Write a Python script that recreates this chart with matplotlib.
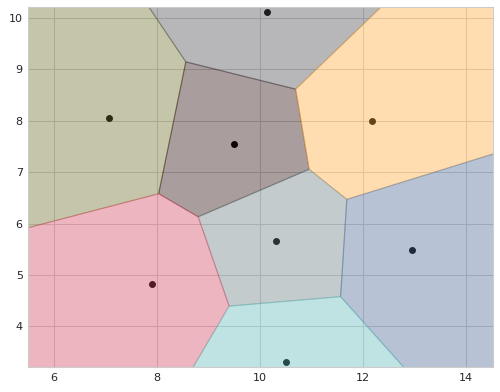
import matplotlib
matplotlib.use('Agg')
import matplotlib.pyplot as plt
import seaborn as sns
import numpy as np

# seed points
seed_x = [7.07, 9.50, 10.14, 12.18, 10.31, 12.96, 7.91, 10.51]
seed_y = [8.05, 7.55, 10.12, 8.00, 5.66, 5.49, 4.83, 3.30]
cell_colors = ['#6e702a', '#2a0c0c', '#4b4b52', '#ffac3e',
               '#697f82', '#4b6b98', '#d44861', '#61bbbb']

x_ticks = [6, 8, 10, 12, 14]
y_ticks = [4, 5, 6, 7, 8, 9, 10]


def clip_halfplane(poly, n, d):
    # keep the part of poly where p . n <= d
    out = []
    m = len(poly)
    for k in range(m):
        p, q = poly[k], poly[(k + 1) % m]
        fp, fq = p @ n - d, q @ n - d
        if fp <= 0:
            out.append(p)
        if fp * fq < 0:
            t = fp / (fp - fq)
            out.append(p + t * (q - p))
    return out


pts = np.column_stack([seed_x, seed_y])
box = [np.array(v, float) for v in [(-10, -10), (30, -10), (30, 30), (-10, 30)]]

sns.set_style('whitegrid')
fig = plt.figure(figsize=(5, 3.92), dpi=100)
ax = fig.add_axes([0.0566, 0.0638, 0.93, 0.9176])

ax.scatter(pts[:, 0], pts[:, 1], s=16, color='black', zorder=1)

for i, pi in enumerate(pts):
    poly = box
    for j, pj in enumerate(pts):
        if i == j:
            continue
        poly = clip_halfplane(poly, 2 * (pj - pi), pj @ pj - pi @ pi)
    poly = np.array(poly)
    ax.fill(poly[:, 0], poly[:, 1], facecolor=cell_colors[i],
            edgecolor=cell_colors[i], alpha=0.4, linewidth=0.8, zorder=2)

ax.set_xlim(5.5, 14.54)
ax.set_ylim(3.21, 10.21)
ax.set_xticks(x_ticks)
ax.set_yticks(y_ticks)
ax.tick_params(labelsize=8, colors='0.15', length=0, pad=4)
ax.grid(True, color='0.82', linewidth=0.7)

plt.savefig('out.png', dpi=100)
